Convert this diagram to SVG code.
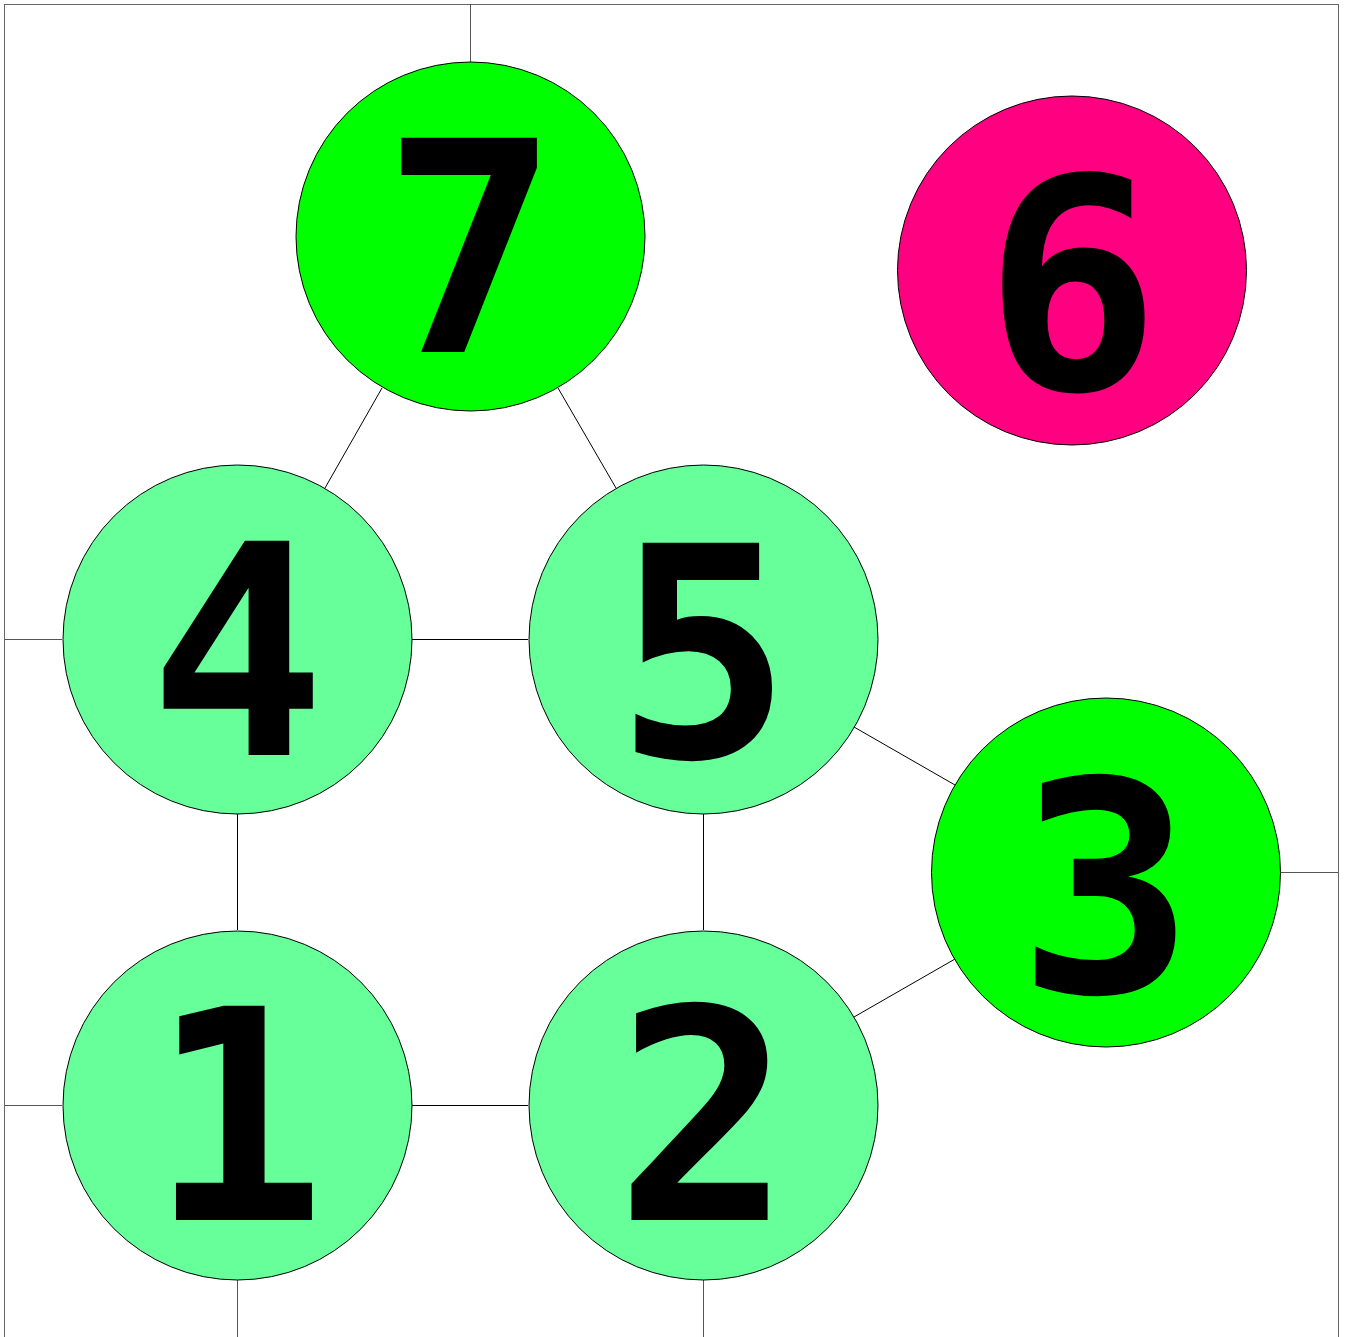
<svg xmlns="http://www.w3.org/2000/svg" width="1345" height="1337" viewBox="0 0 1345 1337">
<style>
.edge{stroke:#000;stroke-width:1;fill:none}
.bedge{stroke:#555;stroke-width:1;fill:none}
.node circle{stroke:#000;stroke-width:1}
.light{fill:#66ff99}
.green{fill:#00ff00}
.pink{fill:#ff0080}
.lbl{font-family:"DejaVu Sans Mono",monospace;font-weight:bold;font-size:294px;text-anchor:middle;fill:#000}
</style>
<rect width="1345" height="1337" fill="#fff"/>
<rect x="4.5" y="4.5" width="1334" height="1340" fill="none" stroke="#666" stroke-width="1"/>
<g id="connectors">
<line class="bedge" x1="470.5" y1="4" x2="470.5" y2="62"/>
<line class="bedge" x1="5" y1="639.5" x2="62" y2="639.5"/>
<line class="bedge" x1="5" y1="1105.5" x2="62" y2="1105.5"/>
<line class="bedge" x1="1281" y1="872.5" x2="1338" y2="872.5"/>
<line class="bedge" x1="237.5" y1="1280" x2="237.5" y2="1337"/>
<line class="bedge" x1="703.5" y1="1280" x2="703.5" y2="1337"/>
<line class="edge" x1="382" y1="388" x2="325" y2="488"/>
<line class="edge" x1="558" y1="388" x2="616" y2="488"/>
<line class="edge" x1="412" y1="639.5" x2="528" y2="639.5"/>
<line class="edge" x1="237.5" y1="814" x2="237.5" y2="930"/>
<line class="edge" x1="703.5" y1="814" x2="703.5" y2="930"/>
<line class="edge" x1="412" y1="1105.5" x2="528" y2="1105.5"/>
<line class="edge" x1="854" y1="727" x2="955" y2="785"/>
<line class="edge" x1="854" y1="1017" x2="955" y2="959"/>
</g>
<g id="node7" class="node"><circle class="green" cx="470.5" cy="236.5" r="174.5"/><text class="lbl" x="470.5" y="352">7</text></g>
<g id="node6" class="node"><circle class="pink" cx="1072" cy="270.5" r="174.5"/><text class="lbl" x="1072" y="389">6</text></g>
<g id="node4" class="node"><circle class="light" cx="237.5" cy="639.5" r="174.5"/><text class="lbl" x="237.5" y="755">4</text></g>
<g id="node5" class="node"><circle class="light" cx="703.5" cy="639.5" r="174.5"/><text class="lbl" x="703.5" y="757">5</text></g>
<g id="node3" class="node"><circle class="green" cx="1106" cy="872.5" r="174.5"/><text class="lbl" x="1106" y="992">3</text></g>
<g id="node1" class="node"><circle class="light" cx="237.5" cy="1105.5" r="174.5"/><text class="lbl" x="237.5" y="1220">1</text></g>
<g id="node2" class="node"><circle class="light" cx="703.5" cy="1105.5" r="174.5"/><text class="lbl" x="703.5" y="1220">2</text></g>
</svg>
